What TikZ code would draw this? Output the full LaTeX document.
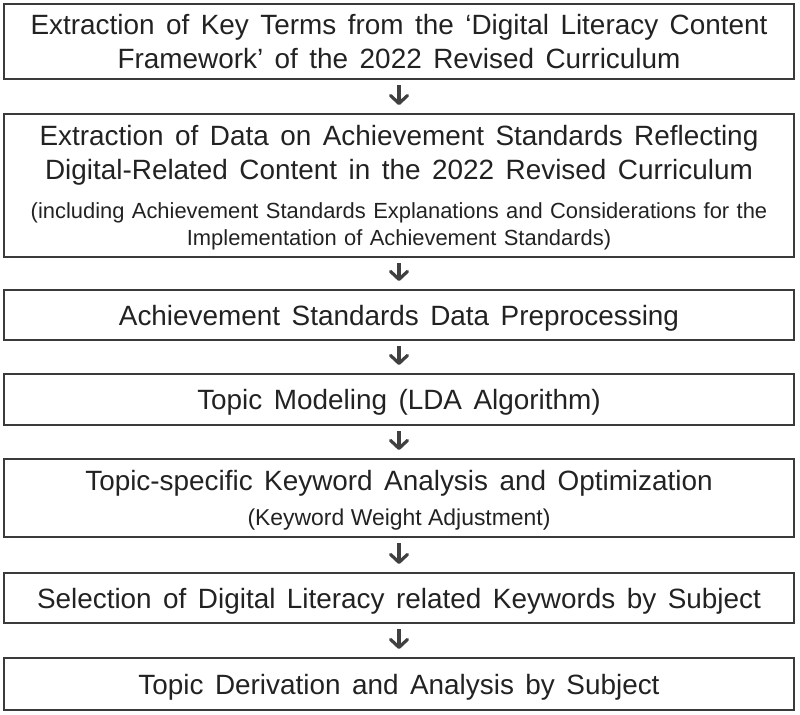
\documentclass[tikz,border=0pt]{standalone}
\usepackage{fontspec}
\setmainfont{Liberation Sans}
\usetikzlibrary{arrows.meta}
\definecolor{txt}{HTML}{222222}
\definecolor{edge}{HTML}{3A3A3A}
\definecolor{arrc}{HTML}{404040}
\newcommand{\mainsize}{\fontsize{28}{35}\selectfont\spaceskip=11.5bp\relax}
\newcommand{\subsize}[2]{\fontsize{#1}{35}\selectfont\spaceskip=#2\relax}
\tikzset{
  stepbox/.style={draw=edge, line width=2bp, minimum width=790bp, inner sep=0pt,
    text width=786bp, text=txt, align=flush center, font=\mainsize, text height=20bp},
  flowarrow/.style={draw=arrc, line width=3.2bp, shorten <=5bp, shorten >=8bp,
    -{Straight Barb[length=8bp, width=17bp, line width=3.2bp, round]}}
}
\begin{document}
\begin{tikzpicture}[x=1bp, y=-1bp]
\useasboundingbox (0,0) rectangle (800,715);
\node[stepbox, minimum height=75bp, text depth=35bp] (b1) at (399,41.6)
  {Extraction of Key Terms from the ‘Digital Literacy Content\\Framework’ of the 2022 Revised Curriculum};
\node[stepbox, minimum height=143bp, text depth=101bp] (b2) at (399,185.6)
  {Extraction of Data on Achievement Standards Reflecting\\Digital-Related Content in the 2022 Revised Curriculum\\[4bp]\subsize{22}{7.4bp}(including Achievement Standards Explanations and Considerations for the\\[-8bp]Implementation of Achievement Standards)};
\node[stepbox, minimum height=50bp, text depth=0pt] (b3) at (399,315) {Achievement Standards Data Preprocessing};
\node[stepbox, minimum height=51bp, text depth=0pt] (b4) at (399,399.5) {Topic Modeling (LDA Algorithm)};
\node[stepbox, minimum height=78bp, text depth=34.7bp] (b5) at (399,498)
  {Topic-specific Keyword Analysis and Optimization\\\subsize{23}{6.5bp}(Keyword Weight Adjustment)};
\node[stepbox, minimum height=50bp, text depth=0pt] (b6) at (399,598) {Selection of Digital Literacy related Keywords by Subject};
\node[stepbox, minimum height=52bp, text depth=0pt] (b7) at (399,684) {Topic Derivation and Analysis by Subject};
\draw[flowarrow] (b1) -- (b2);
\draw[flowarrow] (b2) -- (b3);
\draw[flowarrow] (b3) -- (b4);
\draw[flowarrow] (b4) -- (b5);
\draw[flowarrow] (b5) -- (b6);
\draw[flowarrow] (b6) -- (b7);
\end{tikzpicture}
\end{document}
